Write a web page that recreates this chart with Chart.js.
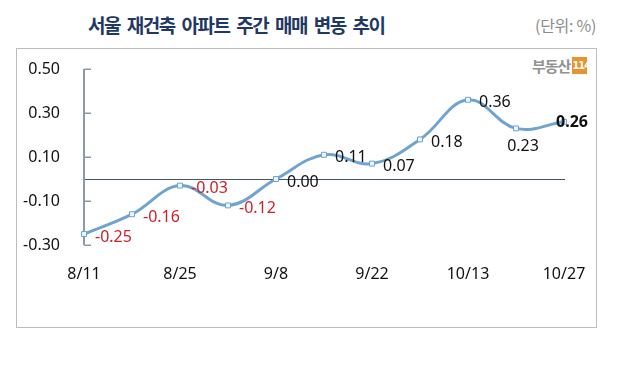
<!DOCTYPE html>
<html>
<head>
<meta charset="utf-8">
<script src="https://cdn.jsdelivr.net/npm/chart.js@4"></script>
<style>
  html, body { margin:0; padding:0; background:#fff; }
  #wrap { position:relative; width:617px; height:380px; overflow:hidden; }
  #frame { position:absolute; left:16px; top:48px; width:581px; height:280px; border:1px solid #bdbdbd; box-sizing:border-box; }
  #title { position:absolute; left:88px; top:12px; white-space:nowrap; font-family:"Noto Sans CJK KR"; font-weight:bold; font-size:19px; line-height:26px; letter-spacing:-1.5px; word-spacing:4px; color:#1f3864; }
  #unit { position:absolute; right:21px; top:13px; font-family:"Noto Sans CJK KR"; font-size:16px; line-height:24px; color:#8c8c8c; letter-spacing:-0.3px; }
  #logo { position:absolute; left:532px; top:57px; font-family:"Noto Sans CJK KR"; font-weight:bold; font-size:15px; color:#929292; line-height:17px; letter-spacing:-1px; white-space:nowrap; }
  #logo span { display:inline-block; vertical-align:top; width:15px; height:17px; text-align:center; background:#e8932c; color:#fff; font-family:"Liberation Sans Narrow","DejaVu Sans Condensed"; font-size:11px; font-weight:bold; margin-left:2px; line-height:17px; letter-spacing:-1px; }
  canvas { position:absolute; left:0; top:0; }
</style>
</head>
<body>
<div id="wrap">
  <div id="frame"></div>
  <div id="title">서울 재건축 아파트 주간 매매 변동 추이</div>
  <div id="unit">(단위: %)</div>
  <div id="logo">부동산<span>114</span></div>
  <canvas id="c" width="617" height="380"></canvas>
</div>
<script>
const categories = ['8/11','8/18','8/25','9/1','9/8','9/15','9/22','9/29','10/13','10/20','10/27'];
const changeValues = [-0.25, -0.16, -0.03, -0.12, 0.00, 0.11, 0.07, 0.18, 0.36, 0.23, 0.26];
const yTicks = [-0.30, -0.10, 0.10, 0.30, 0.50];

const LINE = '#6fa3d2';

const decor = {
  id: 'decor',
  beforeDatasetsDraw(chart) {
    const {ctx, chartArea: a, scales: {y}} = chart;
    ctx.save();
    // zero line
    const y0 = y.getPixelForValue(0);
    ctx.strokeStyle = '#44546a';
    ctx.lineWidth = 1;
    ctx.beginPath();
    ctx.moveTo(a.left, Math.round(y0) + 0.5);
    ctx.lineTo(a.right + 1, Math.round(y0) + 0.5);
    ctx.stroke();
    // y axis line and inner ticks
    ctx.strokeStyle = '#8a9bb0';
    ctx.lineWidth = 2;
    ctx.beginPath();
    ctx.moveTo(a.left, y.getPixelForValue(yTicks[yTicks.length-1]));
    ctx.lineTo(a.left, y.getPixelForValue(yTicks[0]));
    ctx.stroke();
    ctx.lineWidth = 1.5;
    yTicks.forEach(v => {
      const py = Math.round(y.getPixelForValue(v)) + 0.25;
      ctx.beginPath();
      ctx.moveTo(a.left, py);
      ctx.lineTo(a.left + 7, py);
      ctx.stroke();
    });
    ctx.restore();
  },
  afterDatasetsDraw(chart) {
    const {ctx} = chart;
    const meta = chart.getDatasetMeta(0);
    ctx.save();
    const n = changeValues.length;
    meta.data.forEach((pt, i) => {
      const v = changeValues[i];
      const txt = v.toFixed(2);
      ctx.fillStyle = v < 0 ? '#cc2229' : '#111';
      ctx.font = (i === n - 1 ? 'bold ' : '') + '16px "Noto Sans"';
      ctx.textBaseline = 'middle';
      if (i === n - 1) {
        ctx.textAlign = 'left';
        ctx.fillText(txt, pt.x - 8, pt.y + 1);
      } else if (i === n - 2) {
        ctx.textAlign = 'center';
        ctx.fillText(txt, pt.x + 7, pt.y + 18);
      } else {
        ctx.textAlign = 'left';
        ctx.fillText(txt, pt.x + 11, pt.y + 3);
      }
    });
    ctx.restore();
  }
};

new Chart(document.getElementById('c'), {
  type: 'line',
  data: {
    labels: categories,
    datasets: [{
      data: changeValues,
      borderColor: LINE,
      borderWidth: 3,
      tension: 0.4,
      pointStyle: 'rect',
      pointRadius: 3.5,
      pointBackgroundColor: '#eef5fb',
      pointBorderColor: LINE,
      pointBorderWidth: 1,
      fill: false
    }]
  },
  options: {
    responsive: false,
    animation: false,
    layout: { padding: { left: 0, top: 69, right: 53, bottom: 100 } },
    plugins: { legend: { display: false }, tooltip: { enabled: false }, title: { display: false } },
    scales: {
      x: {
        type: 'category',
        offset: false,
        grid: { display: false },
        border: { display: false },
        afterFit(s) { s.height = 35; },
        ticks: {
          autoSkip: false, maxRotation: 0, padding: 12,
          color: '#111', font: { family: 'Noto Sans', size: 16 },
          callback(v, i) { return i % 2 === 0 ? categories[i] : ''; }
        }
      },
      y: {
        min: -0.3, max: 0.5,
        grid: { display: false, drawTicks: false },
        border: { display: false },
        afterFit(s) { s.width = 84; },
        afterBuildTicks(s) { s.ticks = yTicks.map(v => ({ value: v })); },
        ticks: {
          padding: 24,
          color: '#111', font: { family: 'Noto Sans', size: 16 },
          callback(v) { return Number(v).toFixed(2); }
        }
      }
    }
  },
  plugins: [decor]
});
</script>
</body>
</html>
